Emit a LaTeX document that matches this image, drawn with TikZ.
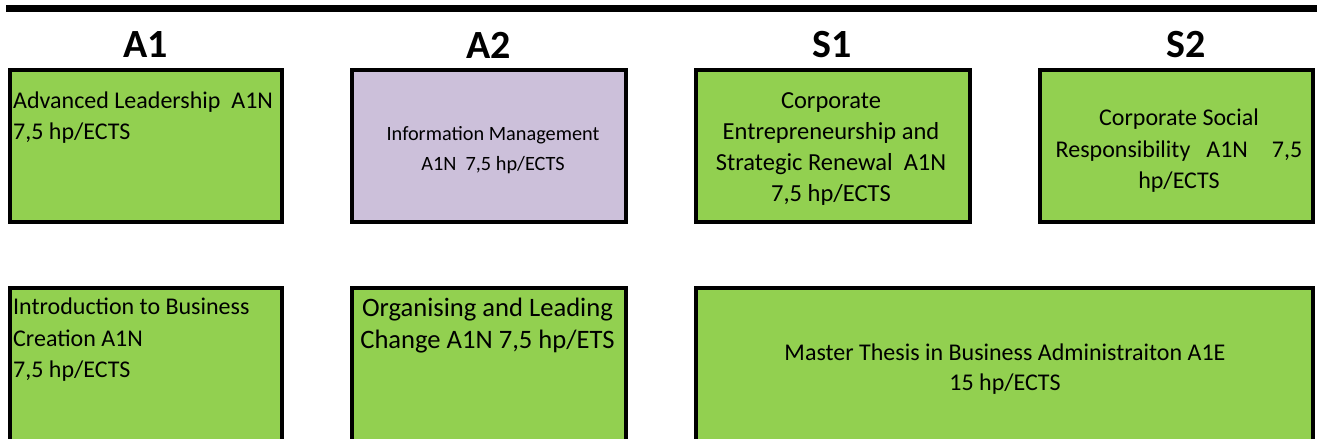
\documentclass[tikz,border=0pt]{standalone}
\usepackage{fontspec}
\setmainfont{Carlito}
\usetikzlibrary{positioning}
\definecolor{coursegreen}{HTML}{92D050}
\definecolor{courselilac}{HTML}{CCC0DA}
\tikzset{
  heading/.style={font=\fontsize{40}{40}\selectfont\bfseries},
  coursebox/.style={draw=black,line width=4pt,fill=coursegreen,inner sep=0pt},
  lilacbox/.style={coursebox,fill=courselilac},
  coursetext/.style 2 args={inner sep=0pt,font=\fontsize{#1}{#2}\selectfont},
}
\begin{document}
\begin{tikzpicture}[x=1pt,y=-1pt]
\useasboundingbox (0,0) rectangle (1317,439);
	\draw[black,line width=7pt] (6,8.5) -- (1330,8.5);
\node[heading] (A1) at (146,45) {A1};
\node[heading] (A2) at (489,45) {A2};
\node[heading] (S1) at (832,45) {S1};
\node[heading] (S2) at (1186,45) {S2};

\node[coursebox,minimum width=272pt,minimum height=152pt] (lead) at (146,146) {};
\node[lilacbox,minimum width=274pt,minimum height=152pt] (info) at (489,146) {};
\node[coursebox,minimum width=274pt,minimum height=152pt] (entre) at (833,146) {};
\node[coursebox,minimum width=273pt,minimum height=152pt] (social) at (1176.5,146) {};
\node[coursebox,minimum width=272pt,minimum height=170pt] (intro) at (146,373) {};
\node[coursebox,minimum width=274pt,minimum height=170pt] (change) at (489,373) {};
\node[coursebox,minimum width=617pt,minimum height=170pt] (thesis) at (1004.5,373) {};

\node[coursetext={24}{31},align=left,anchor=west] (leadtxt) at (13,117.5) {Advanced Leadership\ \ A1N\\7,5 hp/ECTS};
\node[coursetext={20.3}{30},align=center] (infotxt) at (493,150) {Information Management\\A1N\ \ 7,5 hp/ECTS};
\node[coursetext={24.5}{31},align=center] (entretxt) at (831,148.8) {Corporate\\Entrepreneurship and\\Strategic Renewal\ \ A1N\\7,5 hp/ECTS};
\node[coursetext={24}{31.5},align=center] (socialtxt) at (1179,151) {Corporate Social\\Responsibility\hspace{16pt}A1N\hspace{24pt}7,5\\hp/ECTS};
\node[coursetext={24}{31.5},align=left,anchor=west] (introtxt) at (13,340) {Introduction to Business\\Creation A1N\\7,5 hp/ECTS};
\node[coursetext={26.6}{32},align=center] (changetxt) at (487.5,325.2) {Organising and Leading\\Change A1N 7,5 hp/ETS};
\node[coursetext={24}{29.5},align=center] (thesistxt) at (1005,369) {Master Thesis in Business Administraiton A1E\\15 hp/ECTS};

\end{tikzpicture}
\end{document}
